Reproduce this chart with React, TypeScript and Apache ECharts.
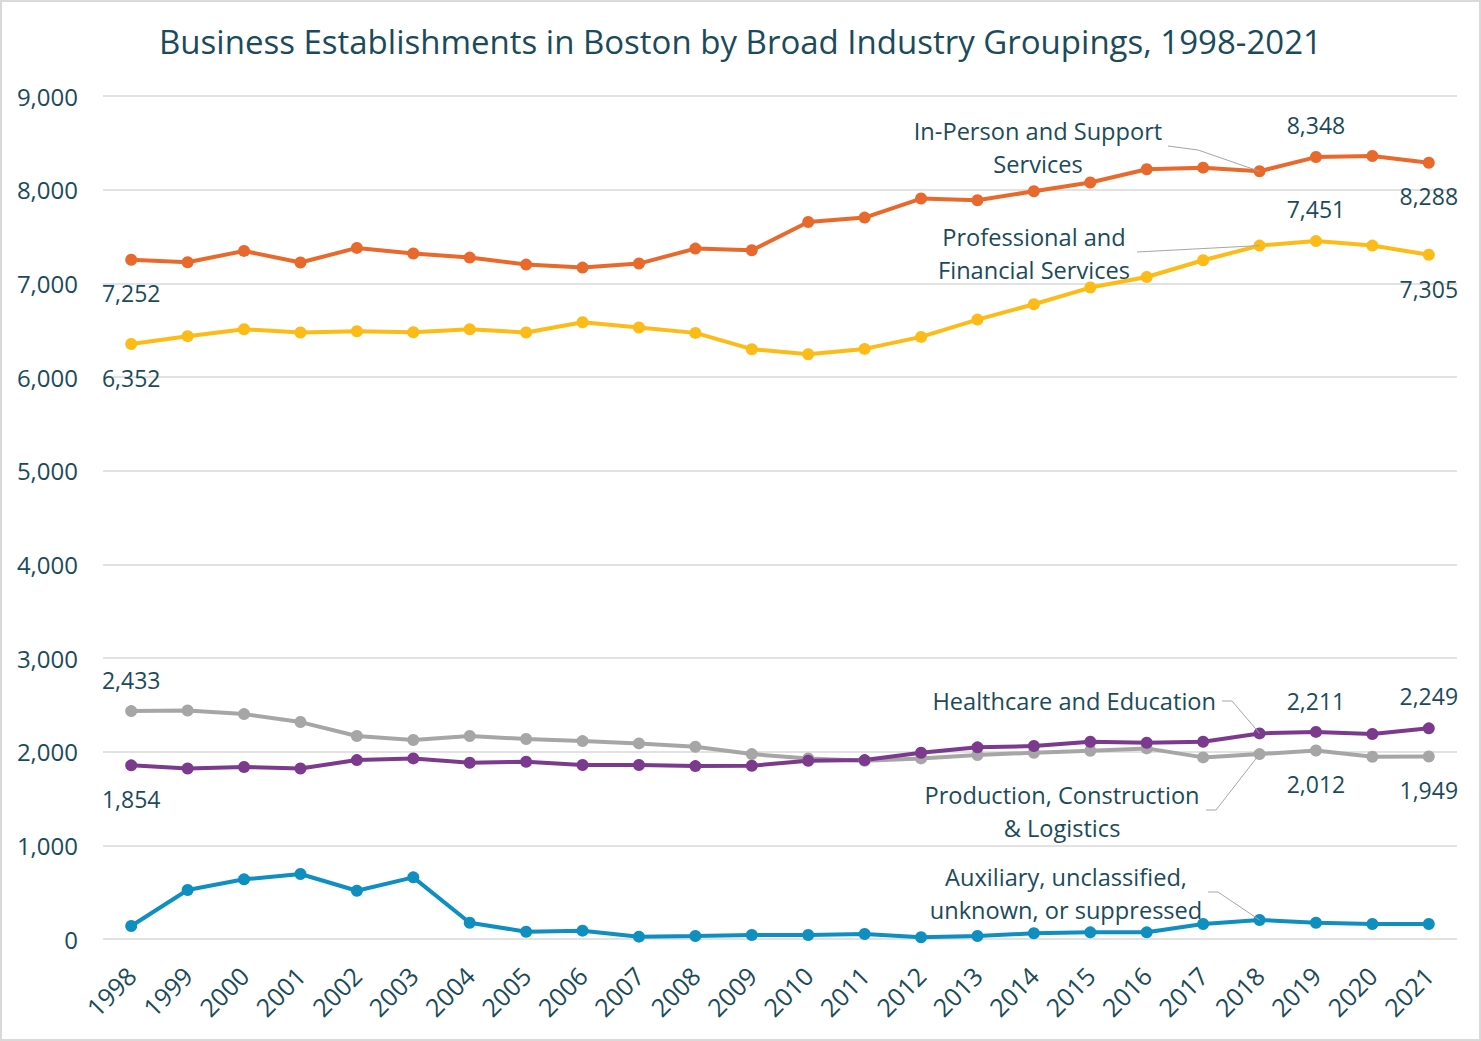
import React, { useEffect, useRef } from "react";
import * as echarts from "echarts";

const years = ["1998","1999","2000","2001","2002","2003","2004","2005","2006","2007","2008","2009","2010","2011","2012","2013","2014","2015","2016","2017","2018","2019","2020","2021"];

const inPerson = [7252,7225,7346,7222,7378,7318,7275,7200,7168,7211,7371,7353,7655,7702,7905,7887,7983,8076,8218,8235,8196,8348,8360,8288];
const professional = [6352,6436,6510,6475,6489,6478,6510,6475,6585,6528,6471,6297,6243,6300,6428,6613,6777,6955,7068,7246,7403,7451,7403,7305];
const production = [2433,2440,2401,2316,2167,2124,2167,2135,2113,2088,2052,1974,1928,1903,1928,1964,1989,2010,2035,1939,1974,2012,1946,1949];
const healthcare = [1854,1821,1836,1821,1910,1928,1882,1892,1857,1857,1846,1850,1903,1910,1989,2046,2060,2106,2095,2106,2195,2211,2188,2249];
const auxiliary = [139,523,637,694,515,658,174,78,89,25,32,43,43,53,18,32,61,71,71,160,203,174,160,160];

const yTicks = [0, 1000, 2000, 3000, 4000, 5000, 6000, 7000, 8000, 9000];

const TEXT = "#1b4b5a";
const FONT = "'Open Sans', 'Noto Sans', sans-serif";

function withLabels(values: number[], labels: Record<number, number>) {
  return values.map((v, i) =>
    labels[i] !== undefined
      ? {
          value: v,
          label: {
            show: true,
            position: "inside",
            offset: [0, labels[i]],
            formatter: (p: any) => Number(p.value).toLocaleString("en-US"),
            color: TEXT,
            fontSize: 23,
            fontFamily: FONT,
          },
        }
      : v
  );
}

export default function App() {
  const ref = useRef<HTMLDivElement>(null);
  useEffect(() => {
    if (!ref.current) return;
    const chart = echarts.init(ref.current, undefined, { renderer: "svg" });
    const mk = (name: string, color: string, data: any[]) => ({
      name,
      type: "line",
      data,
      symbol: "circle",
      symbolSize: 12,
      lineStyle: { color, width: 4 },
      itemStyle: { color },
      label: { show: false },
      z: 3,
    });
    chart.setOption({
      animation: false,
      backgroundColor: "#ffffff",
      title: {
        text: "Business Establishments in Boston by Broad Industry Groupings, 1998-2021",
        left: "center",
        top: 20,
        textStyle: { color: TEXT, fontSize: 33, fontWeight: "normal", fontFamily: FONT },
      },
      grid: { left: 103, right: 24, top: 96, bottom: 102, containLabel: false },
      xAxis: {
        type: "category",
        data: years,
        boundaryGap: true,
        axisLine: { show: false },
        axisTick: { show: false },
        axisLabel: {
          rotate: 45,
          color: TEXT,
          fontSize: 25,
          fontFamily: FONT,
          margin: 32,
          interval: 0,
        },
      },
      yAxis: {
        type: "value",
        min: yTicks[0],
        max: yTicks[yTicks.length - 1],
        interval: 1000,
        axisLine: { show: false },
        axisTick: { show: false },
        splitLine: { lineStyle: { color: "#d9d9d9", width: 1.5 } },
        axisLabel: {
          color: TEXT,
          fontSize: 24,
          fontFamily: FONT,
          margin: 25,
          padding: [0, 0, 6, 0],
          formatter: (v: number) => v.toLocaleString("en-US"),
        },
      },
      series: [
        mk("In-Person and Support Services", "#e8692b", withLabels(inPerson, { 0: 33, 21: -32, 23: 33 })),
        mk("Professional and Financial Services", "#fcbb16", withLabels(professional, { 0: 34, 21: -32, 23: 34 })),
        mk("Production, Construction & Logistics", "#a6a6a6", withLabels(production, { 0: -31, 21: 33, 23: 34 })),
        mk("Healthcare and Education", "#7b3a8e", withLabels(healthcare, { 0: 34, 21: -31, 23: -32 })),
        mk("Auxiliary, unclassified, unknown, or suppressed", "#0e8fc0", withLabels(auxiliary, {})),
      ],
    });

    const px = (si: number, vals: number[], i: number) =>
      chart.convertToPixel({ seriesIndex: si }, [years[i], vals[i]]) as number[];
    const i18 = years.indexOf("2018");
    const p0 = px(0, inPerson, i18);
    const p1 = px(1, professional, i18);
    const p2 = px(2, production, i18);
    const p3 = px(3, healthcare, i18);
    const p4 = px(4, auxiliary, i18);

    const lineStyle = { stroke: "#a6a6a6", lineWidth: 1 };
    const txt = (x: number, y: number, text: string, align = "center") => ({
      type: "text",
      x,
      y,
      style: {
        text,
        fill: TEXT,
        fontSize: 23.6,
        fontFamily: FONT,
        textAlign: align,
        textVerticalAlign: "middle",
        lineHeight: 33,
      },
      z: 10,
    });
    chart.setOption({
      graphic: [
        txt(1038, 147, "In-Person and Support\nServices"),
        { type: "polyline", shape: { points: [[1168, 146], [1198, 150], p0] }, style: lineStyle, z: 9 },
        txt(1034, 253, "Professional and\nFinancial Services"),
        { type: "polyline", shape: { points: [[1137, 252], p1] }, style: lineStyle, z: 9 },
        txt(1216, 701, "Healthcare and Education", "right"),
        { type: "polyline", shape: { points: [[1222, 701], [1232, 701], p3] }, style: lineStyle, z: 9 },
        txt(1062, 811, "Production, Construction\n& Logistics"),
        { type: "polyline", shape: { points: [[1206, 810], [1216, 810], p2] }, style: lineStyle, z: 9 },
        txt(1066, 893, "Auxiliary, unclassified,\nunknown, or suppressed"),
        { type: "polyline", shape: { points: [[1208, 892], [1218, 892], p4] }, style: lineStyle, z: 9 },
      ],
    });
    return () => chart.dispose();
  }, []);
  return (
    <div
      style={{
        position: "fixed",
        left: 0,
        top: 0,
        width: 1481,
        height: 1041,
        background: "#fff",
      }}
    >
      <div ref={ref} style={{ width: 1481, height: 1041 }} />
      <div
        style={{
          position: "absolute",
          left: 0,
          top: 0,
          width: 1481,
          height: 1041,
          boxSizing: "border-box",
          border: "2px solid #d9d9d9",
          pointerEvents: "none",
        }}
      />
    </div>
  );
}
